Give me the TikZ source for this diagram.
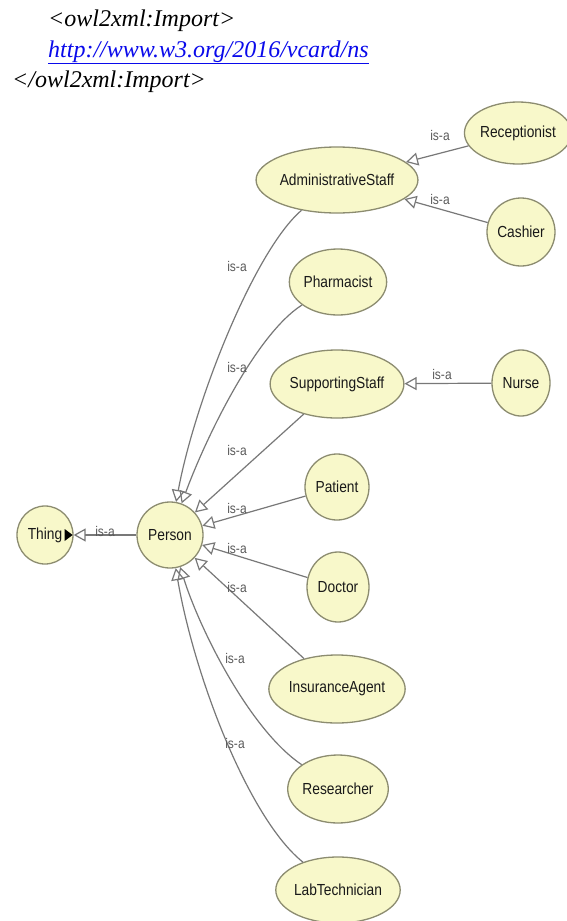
\documentclass[tikz,border=0pt]{standalone}
\usepackage{fontspec}
\setmainfont{Liberation Serif}
\newfontfamily\owlfont[FakeStretch=0.86]{Liberation Sans}
\usepackage{xcolor}
\usetikzlibrary{arrows.meta,shapes.geometric}
\definecolor{clsfill}{RGB}{248,248,202}
\definecolor{clsdraw}{RGB}{140,140,112}
\definecolor{edgegray}{RGB}{120,120,120}
\definecolor{isagray}{RGB}{90,90,90}
\definecolor{linkblue}{RGB}{10,10,235}
\tikzset{
  cls/.style ={ellipse, draw=clsdraw, fill=clsfill, line width=1.3pt,
               inner sep=0pt, text=black!90,
               font=\owlfont\fontsize{16}{18}\selectfont},
  isa/.style ={inner sep=0pt, text=isagray,
               font=\owlfont\fontsize{14}{16}\selectfont},
  hdr/.style ={anchor=base west, inner sep=0pt,
               font=\fontsize{24}{28}\selectfont\itshape},
  arr/.style ={-{Triangle[open, length=12pt, width=13pt]},
               line width=1.2pt, draw=edgegray},
}
\begin{document}
\begin{tikzpicture}[x=1pt, y=-1pt]
  \fill[white] (0,0) rectangle (566,921);
  \useasboundingbox (0,0) rectangle (566,921);

  % import header
  \node[hdr] (imp1) at (48,26) {<owl2xml:Import>};
  \node[hdr, text=linkblue] (imp2) at (48,57) {\underline{http://www.w3.org/2016/vcard/ns}};
  \node[hdr] (imp3) at (12,87) {</owl2xml:Import>};

  % classes
  \node[cls, minimum width=56pt, minimum height=58pt] (thing) at (45,535) {Thing};
  \node[cls, minimum width=66pt, minimum height=66pt] (person) at (170,535) {Person};
  \node[cls, minimum width=134pt, minimum height=66pt] (admin) at (337,180) {AdministrativeStaff};
  \node[cls, minimum width=88pt, minimum height=62pt] (recep) at (518,133) {Receptionist};
  \node[cls, minimum width=68pt, minimum height=68pt] (cashier) at (521,232) {Cashier};
  \node[cls, minimum width=90pt, minimum height=66pt] (pharm) at (338,282) {Pharmacist};
  \node[cls, minimum width=116pt, minimum height=68pt] (support) at (337,384) {SupportingStaff};
  \node[cls, minimum width=58pt, minimum height=66pt] (nurse) at (521,383) {Nurse};
  \node[cls, minimum width=64pt, minimum height=66pt] (patient) at (337,487) {Patient};
  \node[cls, minimum width=62pt, minimum height=70pt] (doctor) at (338,587) {Doctor};
  \node[cls, minimum width=116pt, minimum height=68pt] (insur) at (337,689) {InsuranceAgent};
  \node[cls, minimum width=90pt, minimum height=68pt] (research) at (338,789) {Researcher};
  \node[cls, minimum width=104pt, minimum height=66pt] (labtech) at (338,890) {LabTechnician};

  % expand marker
  \fill[black] ([xshift=-9pt, yshift=6pt]thing.east) -- ([xshift=-9pt, yshift=-6pt]thing.east)
    -- ([xshift=-1pt]thing.east) -- cycle;

  % is-a links
  \draw[arr] (person) -- (thing);
  \draw[arr] (recep) -- (admin);
  \draw[arr] (cashier) -- (admin);
  \draw[arr] (nurse) -- (support);
  \draw[arr] (admin) .. controls (255,250) and (195,400) .. (person);
  \draw[arr] (pharm) .. controls (255,335) and (205,440) .. (person);
  \draw[arr] (support) -- (person);
  \draw[arr] (patient) -- (person);
  \draw[arr] (doctor) -- (person);
  \draw[arr] (insur) -- (person);
  \draw[arr] (research) .. controls (250,730) and (200,630) .. (person);
  \draw[arr] (labtech) .. controls (250,820) and (195,680) .. (person);

  % link labels
  \node[isa] (l-thing) at (105,531) {is-a};
  \node[isa] (l-recep) at (440,135) {is-a};
  \node[isa] (l-cashier) at (440,199) {is-a};
  \node[isa] (l-nurse) at (442,374) {is-a};
  \node[isa] (l-admin) at (237,266) {is-a};
  \node[isa] (l-pharm) at (237,367) {is-a};
  \node[isa] (l-support) at (237,450) {is-a};
  \node[isa] (l-patient) at (237,508) {is-a};
  \node[isa] (l-doctor) at (237,548) {is-a};
  \node[isa] (l-insur) at (237,587) {is-a};
  \node[isa] (l-research) at (235,658) {is-a};
  \node[isa] (l-labtech) at (235,743) {is-a};
\end{tikzpicture}
\end{document}
